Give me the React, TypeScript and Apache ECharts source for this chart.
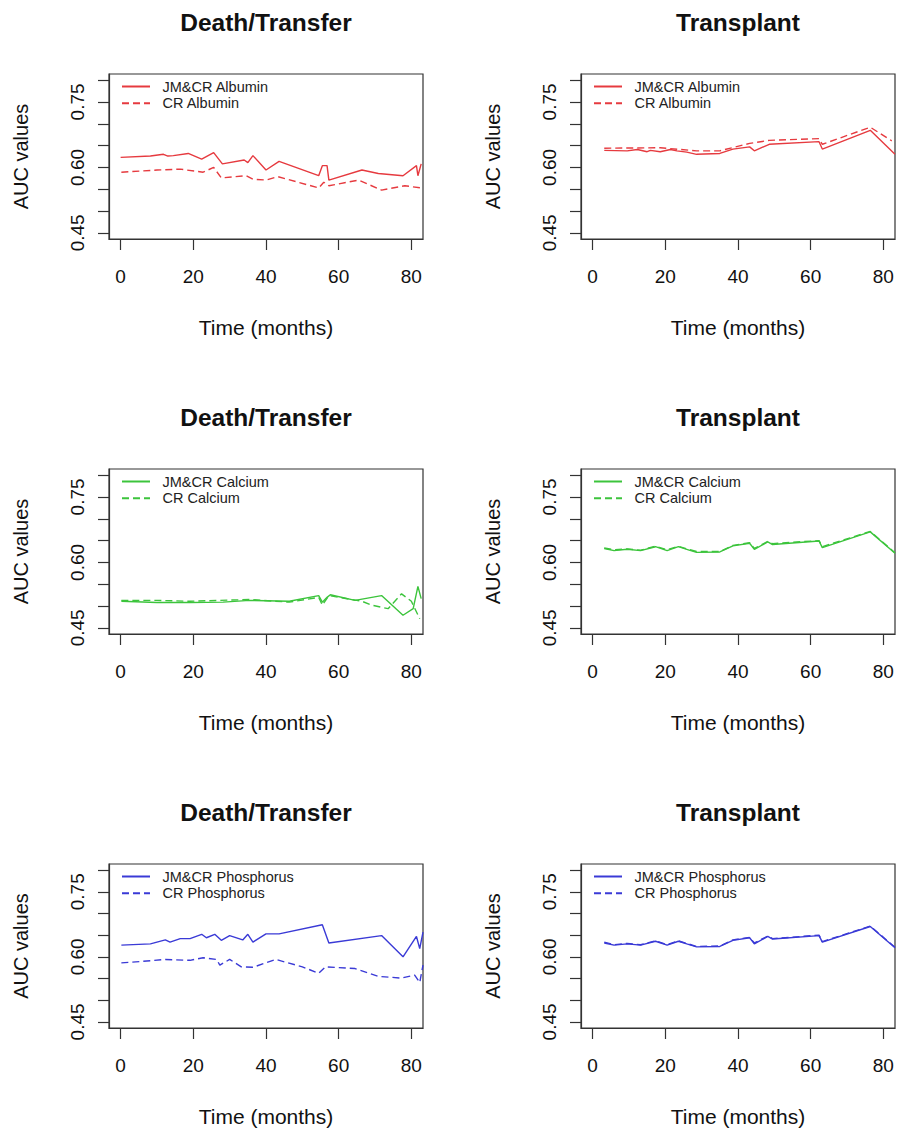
import React, { useEffect, useRef } from "react";
import * as echarts from "echarts";

// ---------- axis ticks ----------
const xTicks = [0, 20, 40, 60, 80];
const yTicks = [0.45, 0.5, 0.55, 0.6, 0.65, 0.7, 0.75, 0.8];
const yTickLabels = [0.45, 0.6, 0.75];

// ---------- Death/Transfer : Albumin ----------
const dtAlbJmT = [0, 8.2, 11.8, 13, 14.5, 18.6, 22.3, 25.6, 28, 34, 35, 36.4, 40, 43.6, 54.5, 55.5, 56.8, 57.3, 66.4, 70.9, 77.7, 81.4, 81.8, 82.7];
const dtAlbJmV = [0.623, 0.626, 0.630, 0.626, 0.627, 0.632, 0.619, 0.634, 0.608, 0.617, 0.611, 0.627, 0.594, 0.614, 0.581, 0.604, 0.604, 0.571, 0.594, 0.586, 0.581, 0.604, 0.581, 0.608];
const dtAlbCrT = [0.2, 10, 16.4, 22.7, 25.6, 27.7, 34.5, 36.4, 40, 43.2, 54.5, 55.9, 57.3, 65.5, 71.8, 78.2, 82.7];
const dtAlbCrV = [0.589, 0.594, 0.596, 0.589, 0.600, 0.576, 0.581, 0.573, 0.571, 0.579, 0.553, 0.566, 0.558, 0.571, 0.548, 0.558, 0.553];

// ---------- Transplant : Albumin ----------
const txAlbJmT = [3.2, 9.5, 12.3, 15, 15.9, 18.6, 21.4, 23.2, 25.9, 28.6, 35, 38.6, 43.2, 44.5, 48.6, 62.3, 63.2, 76.4, 83.2];
const txAlbJmV = [0.639, 0.638, 0.641, 0.636, 0.639, 0.636, 0.641, 0.638, 0.635, 0.630, 0.632, 0.642, 0.647, 0.638, 0.653, 0.659, 0.642, 0.685, 0.630];
const txAlbCrT = [3.2, 18.6, 28.6, 35, 43.2, 48.6, 62.3, 63.2, 76.4, 82.3];
const txAlbCrV = [0.644, 0.645, 0.638, 0.638, 0.655, 0.662, 0.666, 0.653, 0.692, 0.661];

// ---------- Death/Transfer : Calcium ----------
const dtCalJmT = [0.2, 10, 19.1, 28.2, 35.5, 46.4, 54.5, 55.5, 56.8, 57.7, 64.5, 71.8, 77.7, 80.5, 81.8, 82.7];
const dtCalJmV = [0.511, 0.508, 0.508, 0.509, 0.513, 0.511, 0.524, 0.509, 0.520, 0.526, 0.513, 0.524, 0.479, 0.494, 0.545, 0.517];
const dtCalCrT = [0.2, 10, 19.1, 35.5, 46.4, 54.5, 55.5, 57.3, 66.4, 69.1, 73.6, 77.3, 80, 82.3];
const dtCalCrV = [0.513, 0.513, 0.511, 0.515, 0.509, 0.520, 0.502, 0.524, 0.511, 0.502, 0.494, 0.528, 0.511, 0.471];

// ---------- Transplant : Calcium ----------
const txCalJmT = [3.2, 5.9, 9.5, 13.2, 17.3, 20.5, 23.6, 25.9, 28.6, 35, 38.6, 43.2, 44.5, 48.2, 49.5, 62.3, 63.2, 76.4, 83.2];
const txCalJmV = [0.632, 0.627, 0.630, 0.627, 0.636, 0.627, 0.636, 0.630, 0.623, 0.624, 0.638, 0.644, 0.630, 0.647, 0.641, 0.649, 0.634, 0.670, 0.621];
const txCalCrT = [3.2, 5.9, 9.5, 13.2, 17.3, 20.5, 23.6, 25.9, 28.6, 35, 38.6, 43.2, 44.5, 48.2, 49.5, 62.3, 63.2, 76.4, 83.2];
const txCalCrV = [0.633, 0.629, 0.631, 0.628, 0.637, 0.629, 0.637, 0.631, 0.625, 0.625, 0.639, 0.645, 0.632, 0.648, 0.643, 0.650, 0.636, 0.671, 0.622];

// ---------- Death/Transfer : Phosphorus ----------
const dtPhoJmT = [0.2, 8.2, 12.3, 13.6, 16.4, 19.1, 22.3, 23.6, 25.9, 27.7, 30, 33.6, 35, 36.4, 40, 43.6, 55.5, 57.3, 71.8, 77.7, 81.4, 82.3, 83.2];
const dtPhoJmV = [0.627, 0.630, 0.639, 0.634, 0.642, 0.642, 0.652, 0.644, 0.652, 0.638, 0.649, 0.639, 0.652, 0.634, 0.653, 0.653, 0.674, 0.632, 0.649, 0.600, 0.647, 0.619, 0.657];
const dtPhoCrT = [0.2, 8.2, 12.3, 19.1, 22.7, 26.4, 27.3, 30, 33.2, 36.4, 42.7, 50, 54.5, 56.4, 64.5, 70.9, 77.3, 80.9, 82.3, 83.2];
const dtPhoCrV = [0.586, 0.591, 0.594, 0.592, 0.598, 0.594, 0.581, 0.594, 0.577, 0.576, 0.594, 0.577, 0.562, 0.577, 0.573, 0.555, 0.551, 0.558, 0.541, 0.581];

// ---------- Transplant : Phosphorus ----------
const txPhoJmT = [3.2, 5.9, 9.5, 13.2, 17.3, 20.5, 23.6, 25.9, 28.6, 35, 38.6, 43.2, 44.5, 48.2, 49.5, 62.3, 63.2, 76.4, 83.2];
const txPhoJmV = [0.632, 0.627, 0.630, 0.627, 0.636, 0.627, 0.636, 0.630, 0.623, 0.624, 0.638, 0.644, 0.630, 0.647, 0.641, 0.649, 0.634, 0.670, 0.621];
const txPhoCrT = [3.2, 5.9, 9.5, 13.2, 17.3, 20.5, 23.6, 25.9, 28.6, 35, 38.6, 43.2, 44.5, 48.2, 49.5, 62.3, 63.2, 76.4, 83.2];
const txPhoCrV = [0.634, 0.628, 0.631, 0.628, 0.637, 0.628, 0.637, 0.631, 0.624, 0.625, 0.639, 0.645, 0.632, 0.648, 0.642, 0.650, 0.635, 0.671, 0.622];

const FONT = "'Liberation Sans', Arial, Helvetica, sans-serif";
const RED = "#e63a3f";
const GREEN = "#3cc43c";
const BLUE = "#3a3ad6";

const panels = [
  { title: "Death/Transfer", row: 0, col: 0, color: RED, jm: "JM&CR Albumin", cr: "CR Albumin", jmT: dtAlbJmT, jmV: dtAlbJmV, crT: dtAlbCrT, crV: dtAlbCrV },
  { title: "Transplant", row: 0, col: 1, color: RED, jm: "JM&CR Albumin", cr: "CR Albumin", jmT: txAlbJmT, jmV: txAlbJmV, crT: txAlbCrT, crV: txAlbCrV },
  { title: "Death/Transfer", row: 1, col: 0, color: GREEN, jm: "JM&CR Calcium", cr: "CR Calcium", jmT: dtCalJmT, jmV: dtCalJmV, crT: dtCalCrT, crV: dtCalCrV },
  { title: "Transplant", row: 1, col: 1, color: GREEN, jm: "JM&CR Calcium", cr: "CR Calcium", jmT: txCalJmT, jmV: txCalJmV, crT: txCalCrT, crV: txCalCrV },
  { title: "Death/Transfer", row: 2, col: 0, color: BLUE, jm: "JM&CR Phosphorus", cr: "CR Phosphorus", jmT: dtPhoJmT, jmV: dtPhoJmV, crT: dtPhoCrT, crV: dtPhoCrV },
  { title: "Transplant", row: 2, col: 1, color: BLUE, jm: "JM&CR Phosphorus", cr: "CR Phosphorus", jmT: txPhoJmT, jmV: txPhoJmV, crT: txPhoCrT, crV: txPhoCrV },
];

const colLeft = [109, 581];
const rowTop = [74, 469, 864];
const BOX_W = 314;
const BOX_H = 165;

const zip = (t: number[], v: number[]) => t.map((x, i) => [x, v[i]]);

export default function App() {
  const ref = useRef<HTMLDivElement>(null);
  useEffect(() => {
    if (!ref.current) return;
    const chart = echarts.init(ref.current, null, { renderer: "svg" });
    const axisText = { fontFamily: FONT, fontSize: 19, color: "#111" };
    const option: any = {
      animation: false,
      backgroundColor: "#fff",
      grid: panels.map((p) => ({
        left: colLeft[p.col],
        top: rowTop[p.row],
        width: BOX_W,
        height: BOX_H,
        show: true,
        borderColor: "#333",
        borderWidth: 1.2,
        backgroundColor: "transparent",
      })),
      xAxis: panels.map((p, i) => ({
        type: "value",
        gridIndex: i,
        min: -3.2,
        max: 83.2,
        splitLine: { show: false },
        axisLine: { show: true, onZero: false, lineStyle: { color: "#333", width: 1.2 } },
        axisTick: { show: true, length: 11, customValues: xTicks, lineStyle: { color: "#333", width: 1.2 } },
        axisLabel: { ...axisText, margin: 28, customValues: xTicks },
        name: "Time (months)",
        nameLocation: "middle",
        nameGap: 78,
        nameTextStyle: { fontFamily: FONT, fontSize: 21, color: "#111" },
      })),
      yAxis: panels.map((p, i) => ({
        type: "value",
        gridIndex: i,
        min: 0.436,
        max: 0.814,
        splitLine: { show: false },
        axisLine: { show: true, onZero: false, lineStyle: { color: "#333", width: 1.2 } },
        axisTick: { show: true, length: 11, customValues: yTicks, lineStyle: { color: "#333", width: 1.2 } },
        axisLabel: {
          ...axisText,
          margin: 22,
          rotate: 90,
          customValues: yTickLabels,
          formatter: (v: number) => v.toFixed(2),
        },
        name: "AUC values",
        nameLocation: "middle",
        nameGap: 78,
        nameRotate: 90,
        nameTextStyle: { fontFamily: FONT, fontSize: 20, color: "#111" },
      })),
      legend: panels.map((p) => ({
        orient: "vertical",
        left: colLeft[p.col] + 12,
        top: rowTop[p.row] + 5,
        padding: 0,
        data: [p.jm, p.cr],
        itemWidth: 28,
        itemHeight: 14,
        itemGap: 1.7,
        selectedMode: false,
        itemStyle: { opacity: 0 },
        textStyle: { fontFamily: FONT, fontSize: 14.5, color: "#222", padding: [0, 0, 0, 7.5] },
      })),
      graphic: panels.map((p) => ({
        type: "text",
        x: colLeft[p.col] + BOX_W / 2,
        y: rowTop[p.row] - 52,
        style: {
          text: p.title,
          fontFamily: FONT,
          fontSize: 24.5,
          fontWeight: "bold",
          fill: "#111",
          align: "center",
          verticalAlign: "middle",
          textAlign: "center",
          textVerticalAlign: "middle",
        },
      })),
      series: panels.flatMap((p, i) => [
        {
          type: "line",
          name: p.jm,
          xAxisIndex: i,
          yAxisIndex: i,
          data: zip(p.jmT, p.jmV),
          symbol: "none",
          silent: true,
          itemStyle: { color: p.color },
          lineStyle: { color: p.color, width: 1.4, type: "solid" },
        },
        {
          type: "line",
          name: p.cr,
          xAxisIndex: i,
          yAxisIndex: i,
          data: zip(p.crT, p.crV),
          symbol: "none",
          silent: true,
          itemStyle: { color: p.color },
          lineStyle: { color: p.color, width: 1.4, type: [7, 4] },
        },
      ]),
    };
    chart.setOption(option);
    return () => chart.dispose();
  }, []);
  return (
    <div
      ref={ref}
      style={{ position: "fixed", left: 0, top: 0, width: 898, height: 1128, background: "#fff" }}
    />
  );
}
